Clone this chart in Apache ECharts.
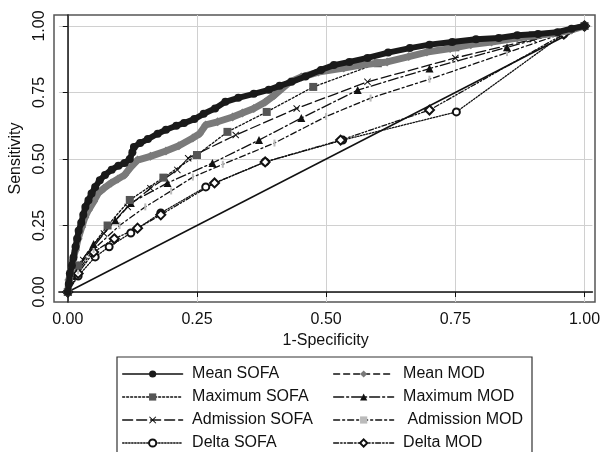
<!DOCTYPE html>
<html>
<head>
<meta charset="utf-8">
<script src="https://cdn.jsdelivr.net/npm/echarts@6/dist/echarts.min.js"></script>
<style>
  html, body { margin: 0; padding: 0; background: #fff; }
  #chart { width: 603px; height: 452px; }
</style>
</head>
<body>
<div id="chart"></div>
<script>
  // ROC curves, [1-specificity, sensitivity]
  var tickValues = [0, 0.25, 0.5, 0.75, 1]
  var diagonal = [[0, 0], [1, 1]]

  var meanSofa = [[0, 0], [0.002, 0.03], [0.004, 0.07], [0.008, 0.10], [0.011, 0.13], [0.015, 0.17],
    [0.018, 0.20], [0.021, 0.23], [0.026, 0.26], [0.030, 0.29], [0.034, 0.32], [0.040, 0.345],
    [0.046, 0.37], [0.053, 0.395], [0.062, 0.42], [0.072, 0.44], [0.085, 0.46], [0.098, 0.475],
    [0.11, 0.485], [0.12, 0.50], [0.125, 0.525], [0.128, 0.545], [0.14, 0.56], [0.155, 0.575],
    [0.174, 0.595], [0.19, 0.61], [0.21, 0.625], [0.225, 0.635], [0.245, 0.65], [0.263, 0.67],
    [0.285, 0.69], [0.305, 0.715], [0.33, 0.73], [0.36, 0.745], [0.389, 0.76], [0.41, 0.775],
    [0.433, 0.79], [0.46, 0.81], [0.49, 0.835], [0.515, 0.853], [0.545, 0.865], [0.58, 0.88],
    [0.62, 0.9], [0.662, 0.917], [0.70, 0.93], [0.744, 0.94], [0.79, 0.95], [0.834, 0.955],
    [0.87, 0.965], [0.91, 0.97], [0.948, 0.977], [0.975, 0.99], [1, 1]]

  var meanMod = [[0, 0], [0.002, 0.045], [0.006, 0.08], [0.010, 0.12], [0.015, 0.158], [0.020, 0.2],
    [0.027, 0.244], [0.033, 0.28], [0.04, 0.308], [0.05, 0.34], [0.059, 0.372], [0.07, 0.39],
    [0.084, 0.41], [0.097, 0.425], [0.11, 0.44], [0.122, 0.47], [0.135, 0.496], [0.16, 0.51],
    [0.19, 0.53], [0.215, 0.55], [0.242, 0.579], [0.255, 0.595], [0.267, 0.628], [0.29, 0.64],
    [0.319, 0.658], [0.338, 0.673], [0.36, 0.69], [0.382, 0.714], [0.40, 0.74], [0.43, 0.79],
    [0.452, 0.808], [0.485, 0.827], [0.534, 0.842], [0.567, 0.853], [0.618, 0.865], [0.66, 0.885],
    [0.695, 0.902], [0.74, 0.915], [0.78, 0.93], [0.82, 0.94], [0.87, 0.955], [0.91, 0.965],
    [0.948, 0.974], [0.975, 0.985], [1, 1]]

  var maxSofa = [[0, 0], [0.02, 0.1], [0.077, 0.25], [0.12, 0.346], [0.185, 0.43], [0.25, 0.515],
    [0.309, 0.602], [0.385, 0.677], [0.475, 0.771], [0.6, 0.86], [0.75, 0.92], [0.9, 0.965], [1, 1]]

  var maxMod = [[0, 0], [0.02, 0.1], [0.05, 0.18], [0.092, 0.27], [0.122, 0.335], [0.193, 0.41],
    [0.28, 0.485], [0.37, 0.571], [0.452, 0.654], [0.561, 0.759], [0.7, 0.84], [0.85, 0.92], [1, 1]]

  var admissionSofa = [[0, 0], [0.03, 0.12], [0.07, 0.22], [0.116, 0.32], [0.16, 0.39], [0.212, 0.459],
    [0.233, 0.503], [0.325, 0.59], [0.443, 0.69], [0.58, 0.79], [0.75, 0.88], [0.9, 0.95], [1, 1]]

  var admissionMod = [[0, 0], [0.02, 0.08], [0.05, 0.16], [0.1, 0.25], [0.15, 0.32], [0.2, 0.38],
    [0.242, 0.432], [0.3, 0.48], [0.4, 0.56], [0.5, 0.66], [0.586, 0.729], [0.7, 0.8], [0.85, 0.9], [1, 1]]

  var deltaSofa = [[0, 0], [0.02, 0.06], [0.053, 0.132], [0.08, 0.17], [0.122, 0.222], [0.18, 0.297],
    [0.267, 0.395], [0.382, 0.489], [0.532, 0.571], [0.752, 0.677], [0.96, 0.97], [1, 1]]

  var deltaMod = [[0, 0], [0.02, 0.07], [0.05, 0.15], [0.09, 0.2], [0.135, 0.24], [0.18, 0.29],
    [0.284, 0.41], [0.382, 0.489], [0.528, 0.571], [0.70, 0.684], [0.96, 0.97], [1, 1]]

  var xMark = 'path://M0,1L1,0L5,4L9,0L10,1L6,5L10,9L9,10L5,6L1,10L0,9L4,5Z'
  var font = '"Liberation Sans", Arial, Helvetica, sans-serif'

  function line(name, data, opts) {
    return {
      name: name,
      type: 'line',
      data: data,
      symbol: opts.symbol,
      symbolSize: opts.size,
      showAllSymbol: true,
      z: opts.z || 3,
      lineStyle: { color: opts.line || '#111', width: opts.width || 1.3, type: opts.dash || 'solid', cap: 'round', join: 'round' },
      itemStyle: { color: opts.color || '#111', borderWidth: opts.border || 0 }
    }
  }

  // legend keys stay thin even where the plotted curve is a dense marker band
  function key(name, dash) {
    return { name: name, lineStyle: { width: 1.3, color: '#111', type: dash || 'solid' } }
  }

  var legendBase = {
    orient: 'vertical', top: 366, height: 110, padding: 0,
    itemWidth: 60, itemHeight: 9, itemGap: 7, selectedMode: false,
    textStyle: { fontSize: 16, color: '#111', fontFamily: font }
  }

  var chart = echarts.init(document.getElementById('chart'))
  chart.setOption({
    animation: false,
    grid: { left: 54, right: 8, top: 15, bottom: 150 },
    xAxis: {
      type: 'value',
      min: -0.0172,
      max: 1.0153,
      name: '1-Specificity',
      nameLocation: 'middle',
      nameGap: 30,
      nameTextStyle: { fontSize: 16, color: '#111', fontFamily: font },
      axisLine: { lineStyle: { color: '#111', width: 1.5 } },
      axisTick: { customValues: tickValues, length: 5, lineStyle: { color: '#111' } },
      axisLabel: {
        customValues: tickValues, margin: 10, fontSize: 16, color: '#111', fontFamily: font,
        formatter: function (v) { return v.toFixed(2) }
      },
      splitLine: { show: true, lineStyle: { color: '#d0d0d0', width: 1 } }
    },
    yAxis: {
      type: 'value',
      min: -0.0376,
      max: 1.0414,
      name: 'Sensitivity',
      nameLocation: 'middle',
      nameGap: 32,
      nameTextStyle: { fontSize: 16, color: '#111', fontFamily: font },
      axisLine: { show: true, lineStyle: { color: '#111', width: 1.5 } },
      axisTick: { show: true, customValues: tickValues, length: 5, lineStyle: { color: '#111' } },
      axisLabel: {
        customValues: tickValues, rotate: 90, margin: 11, fontSize: 16, color: '#111', fontFamily: font,
        formatter: function (v) { return v.toFixed(2) }
      },
      splitLine: { show: true, lineStyle: { color: '#d0d0d0', width: 1 } }
    },
    legend: [Object.assign({}, legendBase, {
      left: 122,
      data: [key('Mean SOFA'), key('Maximum SOFA', [2, 2]), key('Admission SOFA', [10, 4]), key('Delta SOFA', [1.5, 1.5])],
      formatter: function (n) { return ' ' + n }
    }), Object.assign({}, legendBase, {
      left: 333,
      data: [key('Mean MOD', [6, 4]), key('Maximum MOD', [10, 3, 2, 3]), key('Admission MOD', [6, 3, 2, 3]), key('Delta MOD', [5, 2, 1.5, 2, 1.5, 2])],
      formatter: function (n) { return n === 'Admission MOD' ? '  ' + n : ' ' + n }
    })],
    graphic: [
      { type: 'rect', shape: { x: 54, y: 15, width: 541, height: 287 }, silent: true,
        style: { fill: 'none', stroke: '#555', lineWidth: 1.5 }, z: 0 },
      { type: 'rect', shape: { x: 117, y: 357, width: 415, height: 100 }, silent: true,
        style: { fill: 'none', stroke: '#333', lineWidth: 1.2 } }
    ],
    series: [
      { type: 'line', data: diagonal, symbol: 'none', z: 2,
        lineStyle: { color: '#111', width: 1.5 } },
      line('Delta SOFA', deltaSofa, { symbol: 'emptyCircle', size: 7, dash: [1.5, 1.5], border: 1.2 }),
      line('Delta MOD', deltaMod, { symbol: 'emptyDiamond', size: 9, dash: [5, 2, 1.5, 2, 1.5, 2], border: 1.2 }),
      line('Admission MOD', admissionMod, { symbol: 'rect', size: [2, 7], color: '#bbb', dash: [6, 3, 2, 3] }),
      line('Admission SOFA', admissionSofa, { symbol: xMark, size: 7, dash: [10, 4] }),
      line('Maximum MOD', maxMod, { symbol: 'triangle', size: 8, dash: [10, 3, 2, 3] }),
      line('Maximum SOFA', maxSofa, { symbol: 'rect', size: 8, color: '#555', dash: [2, 2] }),
      line('Mean MOD', meanMod, { symbol: 'diamond', size: 9, color: '#7a7a7a', line: '#7a7a7a', width: 7, z: 4 }),
      line('Mean SOFA', meanSofa, { symbol: 'circle', size: 8, color: '#1a1a1a', line: '#1a1a1a', width: 6, z: 5 })
    ]
  })
</script>
</body>
</html>
